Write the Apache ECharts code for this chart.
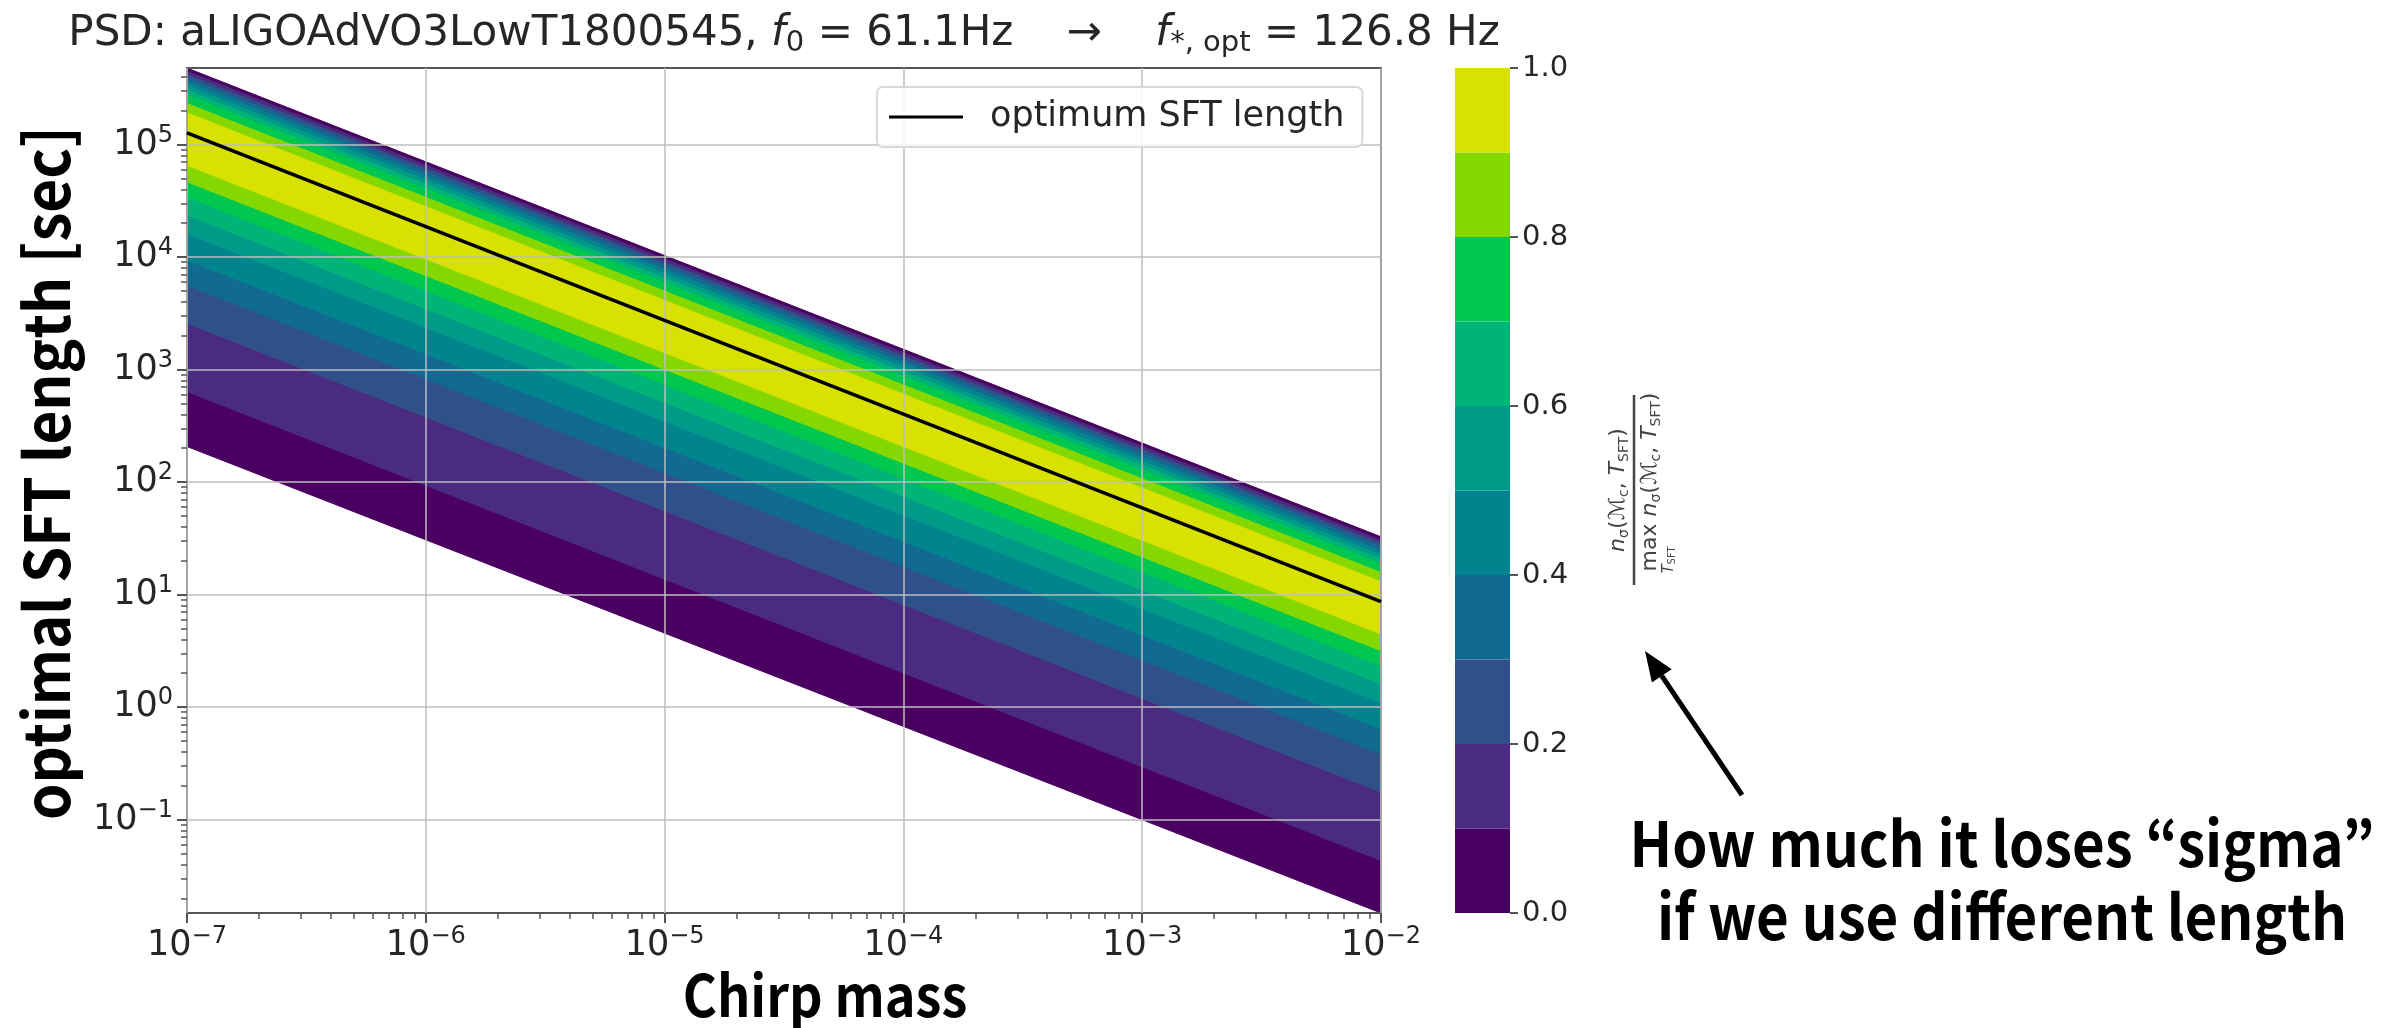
<!DOCTYPE html>
<html><head><meta charset="utf-8">
<script src="https://cdn.jsdelivr.net/npm/echarts@6/dist/echarts.min.js"></script>
<style>html,body{margin:0;padding:0;background:#fff}#c{width:2402px;height:1028px}</style>
</head><body><div id="c"></div>
<script>
// ---- data ----
const chirpMassRange = [1e-7, 1e-2];
const optimumT = [1.27e5, 8.65];               // optimum SFT length at the two x edges
const levels = [0.0, 0.1, 0.2, 0.3, 0.4, 0.5, 0.6, 0.7, 0.8, 0.9, 1.0];
// T (sec) where the normalised sigma equals levels 0.0 .. 0.9, long-T side
const upperLeft  = [4.78e5, 4.47e5, 4.17e5, 3.89e5, 3.59e5, 3.31e5, 3.02e5, 2.74e5, 2.31e5, 1.91e5];
const upperRight = [32.6, 30.4, 28.4, 26.5, 24.4, 22.5, 20.6, 18.7, 15.7, 13.0];
// short-T side
const lowerLeft  = [207, 638, 2580, 5650, 9420, 16200, 23600, 34300, 46600, 65500];
const lowerRight = [0.0141, 0.0434, 0.176, 0.385, 0.641, 1.10, 1.61, 2.34, 3.17, 4.46];
const bandColors = ['#4a0060', '#4a2b80', '#2f5089', '#116a90', '#02848e', '#009a88', '#00b377', '#00c84e', '#84d800', '#d8e100'];
const xTicks = [1e-7, 1e-6, 1e-5, 1e-4, 1e-3, 1e-2];
const yTicks = [1e-1, 1e0, 1e1, 1e2, 1e3, 1e4, 1e5];
const yRange = [0.01479, 4.786e5];
const colorbarTicks = [0, 0.2, 0.4, 0.6, 0.8, 1.0];

// ---- minor ticks (axis decoration) ----
function minorTicks(e0, e1, lo, hi) {
  const out = [];
  for (let e = e0; e <= e1; e++) for (let m = 2; m <= 9; m++) {
    const v = m * Math.pow(10, e);
    if (v >= lo && v <= hi) out.push(v);
  }
  return out;
}
const xMinor = minorTicks(-7, -3, chirpMassRange[0], chirpMassRange[1]);
const yMinor = minorTicks(-2, 5, yRange[0], yRange[1]);

// ---- band polygons built from the arrays ----
const x0 = chirpMassRange[0], x1 = chirpMassRange[1];
const polys = [];
for (let k = 0; k < 9; k++) {
  polys.push([x0, upperLeft[k], x1, upperRight[k], x1, upperRight[k + 1], x0, upperLeft[k + 1], k]);
  polys.push([x0, lowerLeft[k], x1, lowerRight[k], x1, lowerRight[k + 1], x0, lowerLeft[k + 1], k]);
}
polys.push([x0, upperLeft[9], x1, upperRight[9], x1, lowerRight[9], x0, lowerLeft[9], 9]);

const TXT = '#262626';
const FONT = 'DejaVu Sans';
const BOLD = '"Noto Sans CJK KR"';
const FS = 35;
const powRich = {
  b: {fontSize: FS, fontFamily: FONT, color: TXT, lineHeight: 42},
  s: {fontSize: 24, fontFamily: FONT, color: TXT, lineHeight: 22, verticalAlign: 'top'}
};
function powFmt(v) {
  const e = Math.round(Math.log10(v));
  return '{b|10}{s|' + (e < 0 ? '\u2212' + (-e) : e) + '}';
}

const GL = 187, GT = 68, GW = 1194, GH = 845;

const series = [
  {
    type: 'custom', xAxisIndex: 0, yAxisIndex: 0, z: -1, silent: true,
    data: polys,
    encode: {x: [0, 2, 4, 6], y: [1, 3, 5, 7]},
    renderItem(params, api) {
      const pts = [];
      for (let j = 0; j < 4; j++) pts.push(api.coord([api.value(2 * j), api.value(2 * j + 1)]));
      const cs = params.coordSys;
      const c = bandColors[api.value(8)];
      return {
        type: 'polygon',
        shape: {points: echarts.graphic.clipPointsByRect(pts, {x: cs.x, y: cs.y, width: cs.width, height: cs.height})},
        style: {fill: c, stroke: c, lineWidth: 1}
      };
    }
  },
  {
    type: 'line', name: 'optimum SFT length', xAxisIndex: 0, yAxisIndex: 0, z: 3,
    data: [[chirpMassRange[0], optimumT[0]], [chirpMassRange[1], optimumT[1]]],
    symbol: 'none', lineStyle: {color: '#000', width: 3.5}, itemStyle: {color: '#000'}, silent: true
  }
];
for (let k = 0; k < 10; k++) {
  series.push({
    type: 'bar', xAxisIndex: 2, yAxisIndex: 2, stack: 'cb', barWidth: '100%', silent: true,
    data: [+(levels[k + 1] - levels[k]).toFixed(2)], itemStyle: {color: bandColors[k]}
  });
}

const fracRich = {
  n: {fontSize: 22, fontFamily: FONT, fill: '#444', lineHeight: 26},
  i: {fontSize: 22, fontFamily: FONT, fontStyle: 'italic', fill: '#444', lineHeight: 26},
  s: {fontSize: 14, fontFamily: FONT, fill: '#444', lineHeight: 14, verticalAlign: 'bottom'}
};

const option = {
  backgroundColor: '#fff',
  animation: false,
  grid: [
    {left: GL, top: GT, width: GW, height: GH, show: true, borderColor: '#555', borderWidth: 2, backgroundColor: 'transparent'},
    {left: 1455, top: GT, width: 55, height: GH}
  ],
  legend: {
    data: [{name: 'optimum SFT length', icon: 'rect'}],
    left: 877, top: 87, orient: 'horizontal',
    itemWidth: 74, itemHeight: 3,
    padding: [12, 18, 12, 12],
    backgroundColor: 'rgba(255,255,255,0.85)', borderColor: '#d8d8d8', borderWidth: 2, borderRadius: 6,
    textStyle: {fontSize: FS, fontFamily: FONT, color: TXT, lineHeight: 36, padding: [0, 0, 0, 22]},
    selectedMode: false
  },
  xAxis: [
    {
      type: 'log', logBase: 10, gridIndex: 0, min: chirpMassRange[0], max: chirpMassRange[1], position: 'bottom',
      axisLine: {show: false},
      axisTick: {show: true, customValues: xTicks, length: 10, inside: false, lineStyle: {color: '#555', width: 2}},
      axisLabel: {show: true, customValues: xTicks, formatter: powFmt, rich: powRich, margin: 12},
      splitLine: {show: true, lineStyle: {color: 'rgba(190,190,190,0.75)', width: 2}},
      minorTick: {show: false}
    },
    {
      type: 'log', logBase: 10, gridIndex: 0, min: chirpMassRange[0], max: chirpMassRange[1], position: 'bottom',
      axisLine: {show: false},
      axisTick: {show: true, customValues: xMinor, length: 6, lineStyle: {color: '#555', width: 1.5}},
      axisLabel: {show: false}, splitLine: {show: false}
    },
    {type: 'category', gridIndex: 1, data: ['cb'], show: false}
  ],
  yAxis: [
    {
      type: 'log', logBase: 10, gridIndex: 0, min: yRange[0], max: yRange[1], position: 'left',
      axisLine: {show: false},
      axisTick: {show: true, customValues: yTicks, length: 10, lineStyle: {color: '#555', width: 2}},
      axisLabel: {show: true, customValues: yTicks, formatter: powFmt, rich: powRich, margin: 14},
      splitLine: {show: true, lineStyle: {color: 'rgba(190,190,190,0.75)', width: 2}}
    },
    {
      type: 'log', logBase: 10, gridIndex: 0, min: yRange[0], max: yRange[1], position: 'left',
      axisLine: {show: false},
      axisTick: {show: true, customValues: yMinor, length: 6, lineStyle: {color: '#555', width: 1.5}},
      axisLabel: {show: false}, splitLine: {show: false}
    },
    {
      type: 'value', gridIndex: 1, min: 0, max: 1, interval: 0.2, position: 'right',
      axisLine: {show: false},
      axisTick: {show: true, length: 8, lineStyle: {color: '#555', width: 2}},
      axisLabel: {formatter: v => v.toFixed(1), fontSize: 29, fontFamily: FONT, color: TXT, margin: 12},
      splitLine: {show: false}
    }
  ],
  series: series,
  graphic: [
    {
      type: 'text', x: GL + GW / 2, y: 34, z: 10,
      style: {
        text: '{n|PSD: aLIGOAdVO3LowT1800545, }{i|f}{sub|0}{n| = 61.1Hz    \u2192    }{i|f}{sub|*, opt}{n| = 126.8 Hz}',
        align: 'center', verticalAlign: 'middle',
        rich: {
          n: {fontSize: 42, fontFamily: FONT, fill: TXT, lineHeight: 48},
          i: {fontSize: 42, fontFamily: FONT, fontStyle: 'italic', fill: TXT, lineHeight: 48},
          sub: {fontSize: 29, fontFamily: FONT, fill: TXT, lineHeight: 22, verticalAlign: 'bottom'}
        }
      }
    },
    {
      type: 'group', x: 1636, y: 490, rotation: Math.PI / 2, z: 10,
      children: [
        {type: 'text', x: 0, y: -5, style: {
          text: '{i|n}{s|\u03c3}{n|(}{i|\u2133}{s|c}{n|, }{i|T}{s|SFT}{n|)}',
          align: 'center', verticalAlign: 'bottom', rich: fracRich}},
        {type: 'line', shape: {x1: -95, y1: -2, x2: 95, y2: -2}, style: {stroke: '#444', lineWidth: 2.5}},
        {type: 'text', x: 8, y: 1, style: {
          text: '{n|max }{i|n}{s|\u03c3}{n|(}{i|\u2133}{s|c}{n|, }{i|T}{s|SFT}{n|)}',
          align: 'center', verticalAlign: 'top', rich: fracRich}},
        {type: 'text', x: -70, y: 25, style: {
          text: '{i|T}{s|SFT}', align: 'center', verticalAlign: 'top',
          rich: {
            i: {fontSize: 15, fontFamily: FONT, fontStyle: 'italic', fill: '#444', lineHeight: 16},
            s: {fontSize: 10, fontFamily: FONT, fill: '#444', lineHeight: 10, verticalAlign: 'bottom'}
          }}}
      ]
    },
    {
      type: 'text', x: 46, y: 473, rotation: Math.PI / 2, scaleX: 0.94, z: 10,
      style: {text: 'optimal SFT length [sec]', align: 'center', verticalAlign: 'middle',
        font: 'bold 62px ' + BOLD, fill: '#000'}
    },
    {
      type: 'text', x: 825, y: 995, scaleX: 0.9, z: 10,
      style: {text: 'Chirp mass', align: 'center', verticalAlign: 'middle', font: 'bold 58px ' + BOLD, fill: '#000'}
    },
    {
      type: 'text', x: 2002, y: 843, scaleX: 0.91, z: 10,
      style: {text: 'How much it loses \u201csigma\u201d', align: 'center', verticalAlign: 'middle', font: 'bold 62px ' + BOLD, fill: '#000'}
    },
    {
      type: 'text', x: 2002, y: 916, scaleX: 0.91, z: 10,
      style: {text: 'if we use different length', align: 'center', verticalAlign: 'middle', font: 'bold 62px ' + BOLD, fill: '#000'}
    },
    {
      type: 'line', z: 10, shape: {x1: 1742, y1: 795, x2: 1661.8, y2: 675.9}, style: {stroke: '#000', lineWidth: 5}
    },
    {
      type: 'polygon', z: 10, shape: {points: [[1645, 651], [1671.7, 669.2], [1651.9, 682.6]]}, style: {fill: '#000'}
    }
  ]
};
const chart = echarts.init(document.getElementById('c'), null, {renderer: 'canvas', width: 2402, height: 1028});
chart.setOption(option);
</script>
</body></html>
